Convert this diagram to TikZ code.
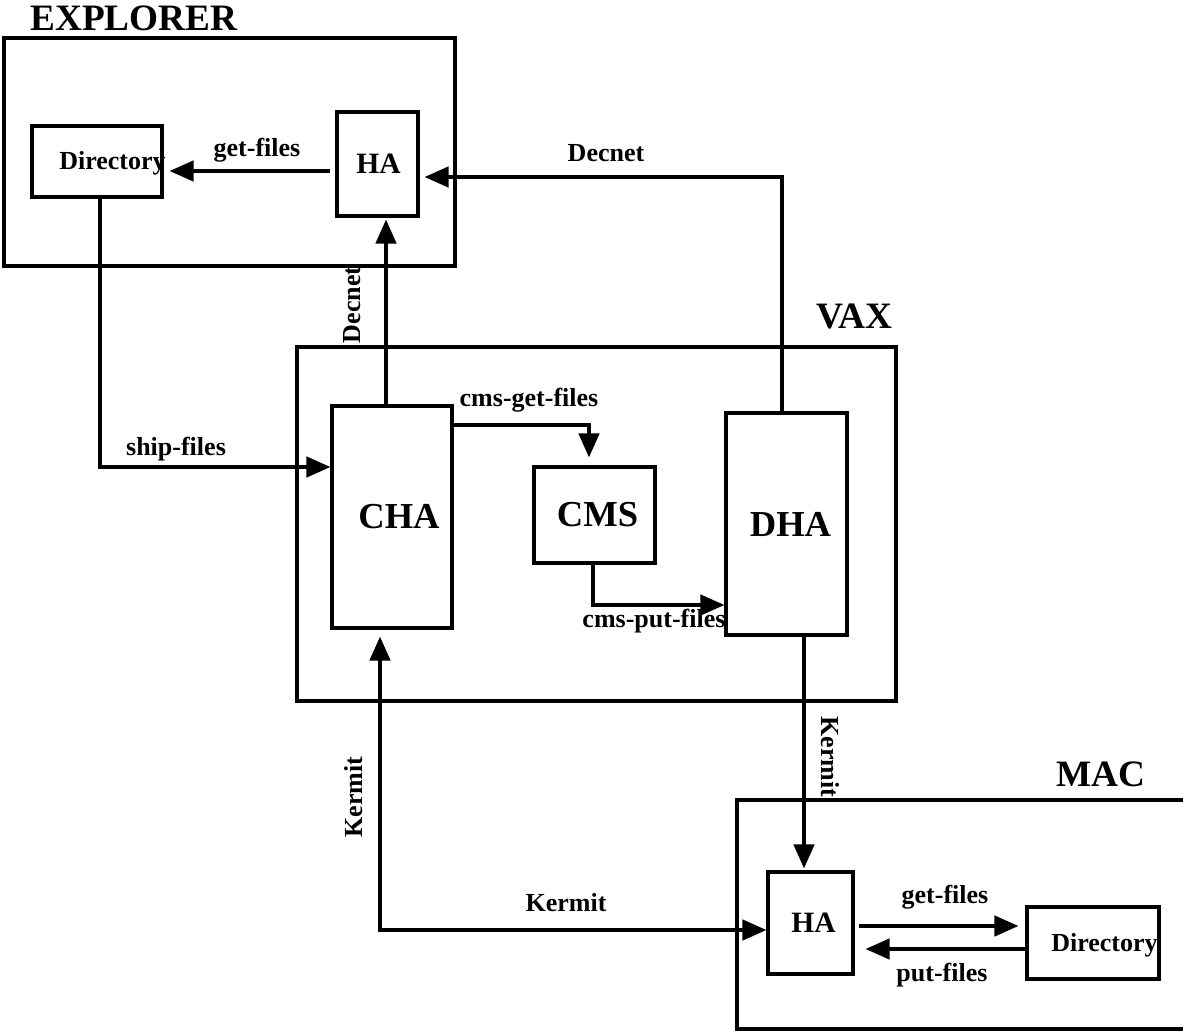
\documentclass[tikz,border=0pt]{standalone}
\usepackage{fontspec}
\setmainfont{Liberation Serif}
\usetikzlibrary{arrows.meta}
\newlength\px
\setlength\px{0.025cm}

\begin{document}
\begin{tikzpicture}[x=0.025cm, y=-0.025cm, >={Triangle[length=17pt,width=14.5pt]},
    frame/.style={draw, line width=2.3pt, inner sep=0pt},
    box/.style={frame, font=\bfseries\fontsize{26}{28}\selectfont},
    habox/.style={frame, font=\bfseries\fontsize{21}{24}\selectfont},
    title/.style={inner sep=0pt, font=\bfseries\fontsize{26.5}{28}\selectfont},
    lbl/.style={inner sep=0pt, font=\bfseries\fontsize{18.5}{20}\selectfont},
    link/.style={line width=2.3pt, ->}]
  \useasboundingbox (0,0) rectangle (1183,1031);

  \node[frame, minimum width=451\px, minimum height=228\px] (explorer) at (229.5,152) {};
  \node[title, anchor=base west] (explorertitle) at (30,31) {EXPLORER};
  \node[frame, minimum width=130\px, minimum height=71\px] (exdir) at (97,161.5) {};
  \node[lbl, anchor=base west] (exdirtext) at (59,170) {Directory};
  \node[habox, minimum width=81\px, minimum height=104\px] (exha) at (377.5,164) {\hspace*{2\px}HA};

  \node[frame, minimum width=599\px, minimum height=354\px] (vax) at (596.5,524) {};
  \node[title, anchor=base east] (vaxtitle) at (893,328) {VAX};
  \node[box, minimum width=120\px, minimum height=222\px] (cha) at (392,517) {\hspace*{14\px}CHA};
  \node[box, minimum width=121\px, minimum height=96\px] (cms) at (594.5,515) {\hspace*{6\px}CMS};
  \node[box, minimum width=121\px, minimum height=222\px] (dha) at (786.5,524) {\hspace*{8\px}DHA};

  \node[frame, minimum width=463\px, minimum height=229\px] (mac) at (968.5,914.5) {};
  \node[title, anchor=base east] (mactitle) at (1146,786) {MAC};
  \node[habox, minimum width=85\px, minimum height=102\px] (macha) at (810.5,923) {\hspace*{6\px}HA};
  \node[frame, minimum width=132\px, minimum height=72\px] (macdir) at (1093,943) {};
  \node[lbl, anchor=base west] (macdirtext) at (1051,951) {Directory};

  \coordinate (a1) at ([yshift=-7\px]exha.west);
  \draw[link, shorten <=5\px, shorten >=6\px] (a1) -- (a1 -| exdir.east);
  \node[lbl] (getex) at (257,150) {get-files};

  \coordinate (b1) at ([xshift=-4.5\px]dha.north);
  \coordinate (b2) at ([yshift=-13\px]exha.east);
  \draw[link, shorten >=5\px] (b1) |- (b2);
  \node[lbl] (decnettop) at (606,153) {Decnet};

  \coordinate (c1) at ([xshift=-6\px]cha.north);
  \draw[link, shorten >=2\px] (c1) -- (c1 |- exha.south);
  \node[lbl, rotate=90] (decnetside) at (352,305) {Decnet};

  \coordinate (d1) at ([xshift=3\px]exdir.south);
  \coordinate (d2) at ([yshift=50\px]cha.west);
  \draw[link] (d1) |- (d2);
  \node[lbl] (ship) at (176,449) {ship-files};

  \coordinate (e1) at ([yshift=92\px]cha.east);
  \coordinate (e2) at ([xshift=-5.5\px]cms.north);
  \draw[link, shorten >=8\px] (e1) -| (e2);
  \node[lbl] (cmsget) at (529,400) {cms-get-files};

  \coordinate (f1) at ([xshift=-1.5\px]cms.south);
  \coordinate (f2) at ([yshift=-81\px]dha.west);
  \draw[link] (f1) |- (f2);
  \node[lbl] (cmsput) at (654,621) {cms-put-files};

  \coordinate (g1) at ([xshift=17.5\px]dha.south);
  \draw[link, shorten >=2\px] (g1) -- (g1 |- macha.north);
  \node[lbl, rotate=-90] (kermitright) at (830,757) {Kermit};

  \coordinate (kcorner) at (380,930);
  \draw[link, <->, shorten <=7\px] (kcorner |- cha.south) -- (kcorner) -- (kcorner -| macha.west);
  \node[lbl] (kermitlow) at (566,903) {Kermit};
  \node[lbl, rotate=90] (kermitleft) at (354,797) {Kermit};

  \coordinate (i1) at ([yshift=-3\px]macha.east);
  \draw[link, shorten <=4\px, shorten >=7\px] (i1) -- (i1 -| macdir.west);
  \node[lbl] (getmac) at (945,897) {get-files};
  \coordinate (j1) at ([yshift=-6\px]macdir.west);
  \draw[link, shorten >=11\px] (j1) -- (j1 -| macha.east);
  \node[lbl] (putmac) at (942,975) {put-files};
\end{tikzpicture}
\end{document}
